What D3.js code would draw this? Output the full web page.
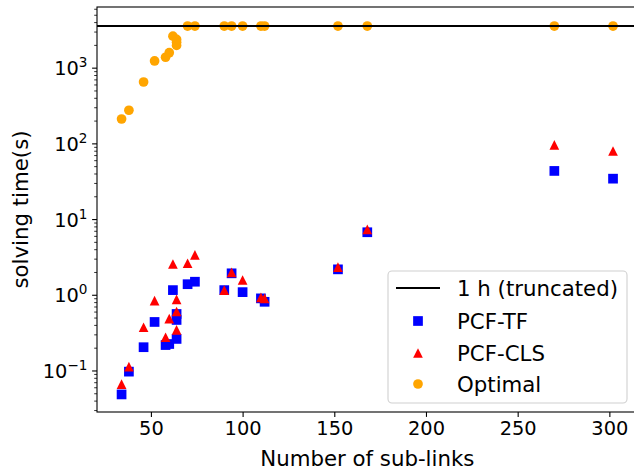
<!DOCTYPE html>
<html>
<head>
<meta charset="utf-8">
<script src="https://cdn.jsdelivr.net/npm/d3@7"></script>
<style>
  body { margin: 0; background: #fff; }
  text { font-family: "DejaVu Sans", sans-serif; fill: #000; }
</style>
</head>
<body>
<div id="main_output"></div>
<script>
// number of sub-links for each instance
var subLinks = [34, 38, 46, 52, 58, 60, 62, 64, 64, 64, 70, 74, 90, 94, 100, 110, 112, 152, 168, 270, 302];
// solving times in seconds
var pcfTF   = [0.049, 0.098, 0.206, 0.444, 0.22, 0.227, 1.17, 0.566, 0.472, 0.265, 1.40, 1.51, 1.17, 1.95, 1.1, 0.91, 0.82, 2.2, 6.8, 43.9, 34.7];
var pcfCLS  = [0.067, 0.114, 0.378, 0.85, 0.279, 0.49, 2.59, 0.885, 0.61, 0.348, 2.65, 3.41, 1.17, 2.01, 1.59, 0.94, 0.91, 2.35, 7.4, 96.7, 80.5];
var optimal = [213, 278, 657, 1245, 1393, 1600, 2650, 2400, 2200, 2000, 3600, 3600, 3600, 3600, 3600, 3600, 3600, 3600, 3600, 3600, 3600];
var timeLimit = 3600;

var xTicks = [50, 100, 150, 200, 250, 300];
var yExps = [-1, 0, 1, 2, 3];
var legendLabels = ["1 h (truncated)", "PCF-TF", "PCF-CLS", "Optimal"];

var width = 634, height = 471;
var m = {left: 97, right: 637.6, top: 7, bottom: 412};
var fs = 19.4;    // tick labels
var fsBig = 21.3; // axis labels and legend

var svg = d3.select("#main_output").append("svg")
  .attr("width", width)
  .attr("height", height);

var x = d3.scaleLinear()
  .domain([20.6, 315.4])
  .range([m.left, m.right]);

var y = d3.scaleLog()
  .domain([Math.pow(10, -1.542), Math.pow(10, 3.808)])
  .range([m.bottom, m.top]);

// clip so markers stay inside axes
svg.append("clipPath").attr("id", "clip")
  .append("rect")
  .attr("x", m.left).attr("y", m.top)
  .attr("width", m.right - m.left).attr("height", m.bottom - m.top);

var plot = svg.append("g").attr("clip-path", "url(#clip)");

var triPath = "M0,-4.85L4.85,4.85L-4.85,4.85Z";

// ---------------- markers ----------------
plot.selectAll(".tf")
  .data(subLinks)
  .enter().append("rect")
  .attr("class", "tf")
  .attr("x", function(d) { return x(d) - 4.85; })
  .attr("y", function(d, i) { return y(pcfTF[i]) - 4.85; })
  .attr("width", 9.7)
  .attr("height", 9.7)
  .attr("fill", "#0000ff");

plot.selectAll(".cls")
  .data(subLinks)
  .enter().append("path")
  .attr("class", "cls")
  .attr("d", triPath)
  .attr("transform", function(d, i) { return "translate(" + x(d) + "," + y(pcfCLS[i]) + ")"; })
  .attr("fill", "#ff0000");

plot.selectAll(".opt")
  .data(subLinks)
  .enter().append("circle")
  .attr("class", "opt")
  .attr("cx", function(d) { return x(d); })
  .attr("cy", function(d, i) { return y(optimal[i]); })
  .attr("r", 4.85)
  .attr("fill", "#ffa500");

// 1 h line
svg.append("line")
  .attr("x1", m.left).attr("x2", m.right)
  .attr("y1", y(timeLimit)).attr("y2", y(timeLimit))
  .attr("stroke", "#000")
  .attr("stroke-width", 2.1);

// ---------------- axes ----------------
var xAxis = svg.append("g")
  .attr("transform", "translate(0," + m.bottom + ")")
  .call(d3.axisBottom(x).tickValues(xTicks).tickSize(4.9).tickPadding(4.5));
xAxis.select(".domain").remove();
xAxis.selectAll("line").attr("stroke-width", 1.1);
xAxis.selectAll("text")
  .attr("font-size", fs)
  .attr("font-family", "DejaVu Sans");

// minor ticks for the log axis
var minor = [];
for (var e = -2; e <= 3; e++) {
  for (var k = 2; k <= 9; k++) {
    var v = k * Math.pow(10, e);
    if (v >= y.domain()[0] && v <= y.domain()[1]) minor.push(v);
  }
}
svg.selectAll(".minor")
  .data(minor)
  .enter().append("line")
  .attr("x1", m.left - 2.8).attr("x2", m.left)
  .attr("y1", function(d) { return y(d); })
  .attr("y2", function(d) { return y(d); })
  .attr("stroke", "#000")
  .attr("stroke-width", 0.8);

var yt = svg.selectAll(".ytick")
  .data(yExps)
  .enter().append("g")
  .attr("transform", function(d) { return "translate(0," + y(Math.pow(10, d)) + ")"; });
yt.append("line")
  .attr("x1", m.left - 4.9).attr("x2", m.left)
  .attr("stroke", "#000")
  .attr("stroke-width", 1.1);
var ytext = yt.append("text")
  .attr("x", m.left - 9.5)
  .attr("y", 7)
  .attr("text-anchor", "end")
  .attr("font-size", fs);
ytext.append("tspan").text("10");
ytext.append("tspan")
  .attr("dy", -8)
  .attr("font-size", fs * 0.7)
  .text(function(d) { return d < 0 ? "\u2212" + (-d) : d; });

// spines
svg.append("rect")
  .attr("x", m.left).attr("y", m.top)
  .attr("width", m.right - m.left).attr("height", m.bottom - m.top)
  .attr("fill", "none")
  .attr("stroke", "#000")
  .attr("stroke-width", 1.1);

// axis labels
svg.append("text")
  .attr("x", (m.left + m.right) / 2)
  .attr("y", 466)
  .attr("text-anchor", "middle")
  .attr("font-size", fsBig)
  .text("Number of sub-links");

svg.append("text")
  .attr("transform", "translate(28," + ((m.top + m.bottom) / 2) + ") rotate(-90)")
  .attr("text-anchor", "middle")
  .attr("font-size", fsBig)
  .text("solving time(s)");

// ---------------- legend ----------------
var lg = svg.append("g");
lg.append("rect")
  .attr("x", 388).attr("y", 271)
  .attr("width", 239).attr("height", 132)
  .attr("rx", 4)
  .attr("fill", "#fff").attr("fill-opacity", 0.8)
  .attr("stroke", "#d0d0d0")
  .attr("stroke-width", 1.1);

var rowY = [288, 321, 353, 384];
lg.append("line")
  .attr("x1", 396).attr("x2", 440)
  .attr("y1", rowY[0]).attr("y2", rowY[0])
  .attr("stroke", "#000").attr("stroke-width", 2.1);
lg.append("rect")
  .attr("x", 418 - 4.85).attr("y", rowY[1] - 4.85)
  .attr("width", 9.7).attr("height", 9.7)
  .attr("fill", "#0000ff");
lg.append("path")
  .attr("d", triPath)
  .attr("transform", "translate(418," + rowY[2] + ")")
  .attr("fill", "#ff0000");
lg.append("circle")
  .attr("cx", 418).attr("cy", rowY[3]).attr("r", 4.85)
  .attr("fill", "#ffa500");

lg.selectAll(".lgtext")
  .data(legendLabels)
  .enter().append("text")
  .attr("x", 457)
  .attr("y", function(d, i) { return rowY[i] + 7.5; })
  .attr("font-size", fsBig)
  .text(function(d) { return d; });
</script>
</body>
</html>
